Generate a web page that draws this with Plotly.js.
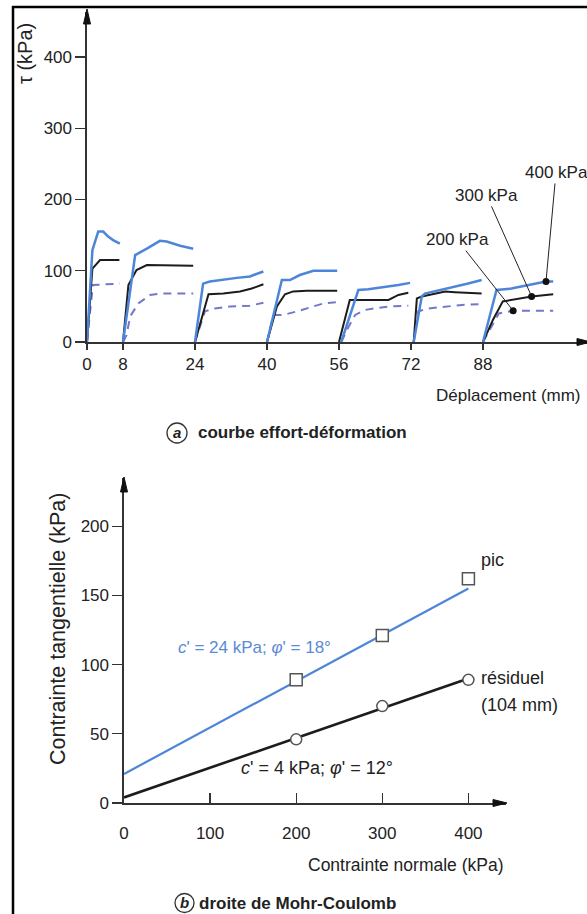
<!DOCTYPE html>
<html>
<head>
<meta charset="utf-8">
<script src="https://cdn.plot.ly/plotly-3.0.1.min.js"></script>
<style>
html,body{margin:0;padding:0;background:#fff;overflow:hidden;}
#chart{width:587px;height:914px;}
</style>
</head>
<body>
<div id="chart"></div>
<script>
// ---------- (a) courbe effort-déformation ----------
// displacement (mm) and shear stress tau (kPa); null separates the successive shear cycles
const disp400 = [0,1.2,2.5,3.6,4.7,5.8,7.3,null,
  8,10.7,13.3,16.2,17.7,20.7,23.6,null,
  24,25.8,27.3,30.3,33.3,36.2,37.7,39.2,null,
  40,43.3,45.1,47.3,50.3,52.5,55.6,null,
  56.5,60.3,62.5,66.2,69.2,71.8,null,
  72.6,74.4,75.1,80.3,84.7,87.7,null,
  88,91,94.3,98,102,103.6];
const tau400 = [0,129,155,155,148,143,138,null,
  0,122,131,142,141,135,131,null,
  0,82,85,88,90,92,96,99,null,
  0,87,87,94,100,100,100,null,
  0,73,74,77,80,83,null,
  0,64,68,75,82,87,null,
  0,73,75,80,85,85];

const disp300 = [0,1.2,2.9,7.2,null,
  8,9.2,11,13.3,23.6,null,
  24,27,30.3,34,36.6,39.2,null,
  40,42.2,44,45.8,48.8,55.6,null,
  56,58.4,67,69.2,71.4,null,
  72.6,73.3,74.4,79.6,81.8,87.7,null,
  88,90.2,92.4,94.3,96.5,98.8,103.6];
const tau300 = [0,103,115,115,null,
  0,80,101,108,107,null,
  0,67,68,71,75,81,null,
  0,50,67,71,72,72,null,
  0,59,59,66,69,null,
  0,61,64,71,70,68,null,
  0,31,57,59,61,64,67];

const disp200 = [0,1.3,7.3,null,
  8,8.8,9.6,11.4,14,16.2,23.6,null,
  24,25.1,26.2,28.4,31.8,36.2,39.2,null,
  40,41.4,43.6,47.3,50.3,52.5,55.6,null,
  56.5,58.1,59.6,61.8,64.7,67.7,71.4,null,
  72.6,73.6,75.8,79.6,83.3,87,null,
  88,91.5,94.7,103.6];
const tau200 = [0,80,82,null,
  0,10,36,54,66,68,68,null,
  0,21,43,47,50,51,55,null,
  0,38,38,44,50,54,56,null,
  0,21,38,45,48,50,51,null,
  0,43,47,50,52,53,null,
  0,40,44,44];

const xTicksA = [0,8,24,40,56,72,88];
const yTicksA = [0,100,200,300,400];
const pointLabels = ['200 kPa','300 kPa','400 kPa'];
const pointDisp = [94.7,98.8,102];
const pointTau = [44,64,85];

// ---------- (b) droite de Mohr-Coulomb ----------
const sigmaN = [200,300,400];
const tauPic = [89,121,162];
const tauResiduel = [46,70,89];
const envSigma = [0,400];
const envPic = [21,155];
const envResiduel = [4,90];
const xTicksB = [0,100,200,300,400];
const yTicksB = [0,50,100,150,200];

// ---------- styling ----------
const W = 587, H = 914;
const FONT = 'Liberation Sans, Arial, sans-serif';
const BLUE = '#4d86d9', BLACK = '#1c1c1c', DASHC = '#7377c9', AXC = '#333333', TXT = '#222222';
const px = x => x / W;
const py = y => 1 - y / H;

const traces = [
  {x: disp200, y: tau200, xaxis:'x', yaxis:'y', mode:'lines', line:{color:DASHC, width:2, dash:'8px,6px'}, hoverinfo:'skip'},
  {x: disp300, y: tau300, xaxis:'x', yaxis:'y', mode:'lines', line:{color:BLACK, width:2}, hoverinfo:'skip'},
  {x: disp400, y: tau400, xaxis:'x', yaxis:'y', mode:'lines', line:{color:BLUE, width:2.5}, hoverinfo:'skip'},
  {x: pointDisp, y: pointTau, xaxis:'x', yaxis:'y', mode:'markers', marker:{color:'#111', size:7}, hoverinfo:'skip', cliponaxis:false},
  {x: envSigma, y: envPic, xaxis:'x2', yaxis:'y2', mode:'lines', line:{color:BLUE, width:2.2}, hoverinfo:'skip'},
  {x: envSigma, y: envResiduel, xaxis:'x2', yaxis:'y2', mode:'lines', line:{color:BLACK, width:2.6}, hoverinfo:'skip'},
  {x: sigmaN, y: tauPic, xaxis:'x2', yaxis:'y2', mode:'markers', marker:{symbol:'square', size:12, color:'#fff', line:{color:'#555', width:1.5}}, hoverinfo:'skip', cliponaxis:false},
  {x: sigmaN, y: tauResiduel, xaxis:'x2', yaxis:'y2', mode:'markers', marker:{symbol:'circle', size:11, color:'#fff', line:{color:'#555', width:1.5}}, hoverinfo:'skip', cliponaxis:false}
];

const tickFont = {family: FONT, size: 17, color: TXT};
const axBase = {showgrid:false, zeroline:false, showline:true, linecolor:AXC, linewidth:1.6,
  tickcolor:AXC, tickwidth:1.4, tickfont:tickFont, fixedrange:true, tickmode:'array'};

function txt(x, y, text, opts) {
  return Object.assign({xref:'paper', yref:'paper', x:px(x), y:py(y), text:text, showarrow:false,
    font:{family:FONT, size:17, color:TXT}, xanchor:'center', yanchor:'middle'}, opts || {});
}

const annotations = [
  txt(25, 54, 'τ (kPa)', {textangle:-90, font:{family:FONT, size:20, color:TXT}}),
  txt(434, 395, 'Déplacement (mm)', {xanchor:'left'}),
  txt(177, 432, '<b><i>a</i></b>', {font:{family:FONT, size:15, color:TXT}}),
  txt(196, 432, '<b>courbe effort-déformation</b>', {xanchor:'left'}),
  txt(58, 629, 'Contrainte tangentielle (kPa)', {textangle:-90, font:{family:FONT, size:21.5, color:TXT}}),
  txt(492, 560, 'pic', {font:{family:FONT, size:18, color:TXT}}),
  txt(254, 647, '<i>c</i>\' = 24 kPa; <i>φ</i>\' = 18°', {font:{family:FONT, size:17, color:'#5a8ad6'}}),
  txt(479, 678, 'résiduel', {xanchor:'left', font:{family:FONT, size:18, color:TXT}}),
  txt(479, 705, '(104 mm)', {xanchor:'left', font:{family:FONT, size:18, color:TXT}}),
  txt(317, 768, '<i>c</i>\' = 4 kPa; <i>φ</i>\' = 12°', {font:{family:FONT, size:18, color:TXT}}),
  txt(406, 865, 'Contrainte normale (kPa)', {font:{family:FONT, size:17.5, color:TXT}}),
  txt(184.5, 902, '<b><i>b</i></b>', {font:{family:FONT, size:15, color:TXT}}),
  txt(197, 903, '<b>droite de Mohr-Coulomb</b>', {xanchor:'left'})
];
// labels pointing to the marked points of part (a)
const labelOffsets = [[-56,-71],[-45,-101],[10,-109]];
pointLabels.forEach((lab, i) => {
  annotations.push({xref:'x', yref:'y', x:pointDisp[i], y:pointTau[i], text:lab, showarrow:true,
    arrowhead:0, arrowwidth:1, arrowcolor:'#222', ax:labelOffsets[i][0], ay:labelOffsets[i][1], standoff:3,
    font:{family:FONT, size:17, color:TXT}});
});

function tri(tip, b1, b2) {
  return {type:'path', xref:'paper', yref:'paper',
    path:`M ${px(tip[0])} ${py(tip[1])} L ${px(b1[0])} ${py(b1[1])} L ${px(b2[0])} ${py(b2[1])} Z`,
    fillcolor:'#111', line:{color:'#111', width:1}};
}
function circ(cx, cy, r) {
  return {type:'circle', xref:'paper', yref:'paper', x0:px(cx-r), x1:px(cx+r), y0:py(cy+r), y1:py(cy-r),
    line:{color:'#333', width:1.3}};
}
const shapes = [
  {type:'line', xref:'paper', yref:'paper', x0:px(12), x1:px(587), y0:py(7), y1:py(7), line:{color:'#000', width:2.5}},
  {type:'line', xref:'paper', yref:'paper', x0:px(13), x1:px(13), y0:py(6), y1:py(914), line:{color:'#000', width:2.5}},
  tri([87,9],[83.5,24],[90.5,24]),
  tri([591,342],[577,338.5],[577,345.5]),
  tri([124,477],[120.5,492],[127.5,492]),
  tri([507,803],[493,799.5],[493,806.5]),
  circ(177, 433, 10),
  circ(184.5, 903, 9.5)
];

const layout = {
  width: W, height: H,
  margin: {l:0, r:0, t:0, b:0},
  paper_bgcolor:'#fff', plot_bgcolor:'rgba(0,0,0,0)',
  showlegend:false,
  xaxis: Object.assign({}, axBase, {domain:[px(87), 1], range:[0, 500/4.5], tickvals:xTicksA, ticktext:xTicksA.map(String),
    ticks:'outside', ticklen:6, anchor:'y'}),
  yaxis: Object.assign({}, axBase, {domain:[py(342), py(12)], range:[0, 330/0.7125], tickvals:yTicksA, ticktext:yTicksA.map(String),
    ticks:'outside', ticklen:10, anchor:'x'}),
  xaxis2: Object.assign({}, axBase, {domain:[px(124), px(506)], range:[0, 382/0.861], tickvals:xTicksB, ticktext:xTicksB.map(String),
    ticks:'inside', ticklen:10, anchor:'y2', ticklabelstandoff:14}),
  yaxis2: Object.assign({}, axBase, {domain:[py(803), py(478)], range:[0, 325/1.384], tickvals:yTicksB, ticktext:yTicksB.map(String),
    ticks:'outside', ticklen:10, anchor:'x2'}),
  annotations: annotations,
  shapes: shapes
};

Plotly.newPlot('chart', traces, layout, {displayModeBar:false, staticPlot:true});
</script>
</body>
</html>
